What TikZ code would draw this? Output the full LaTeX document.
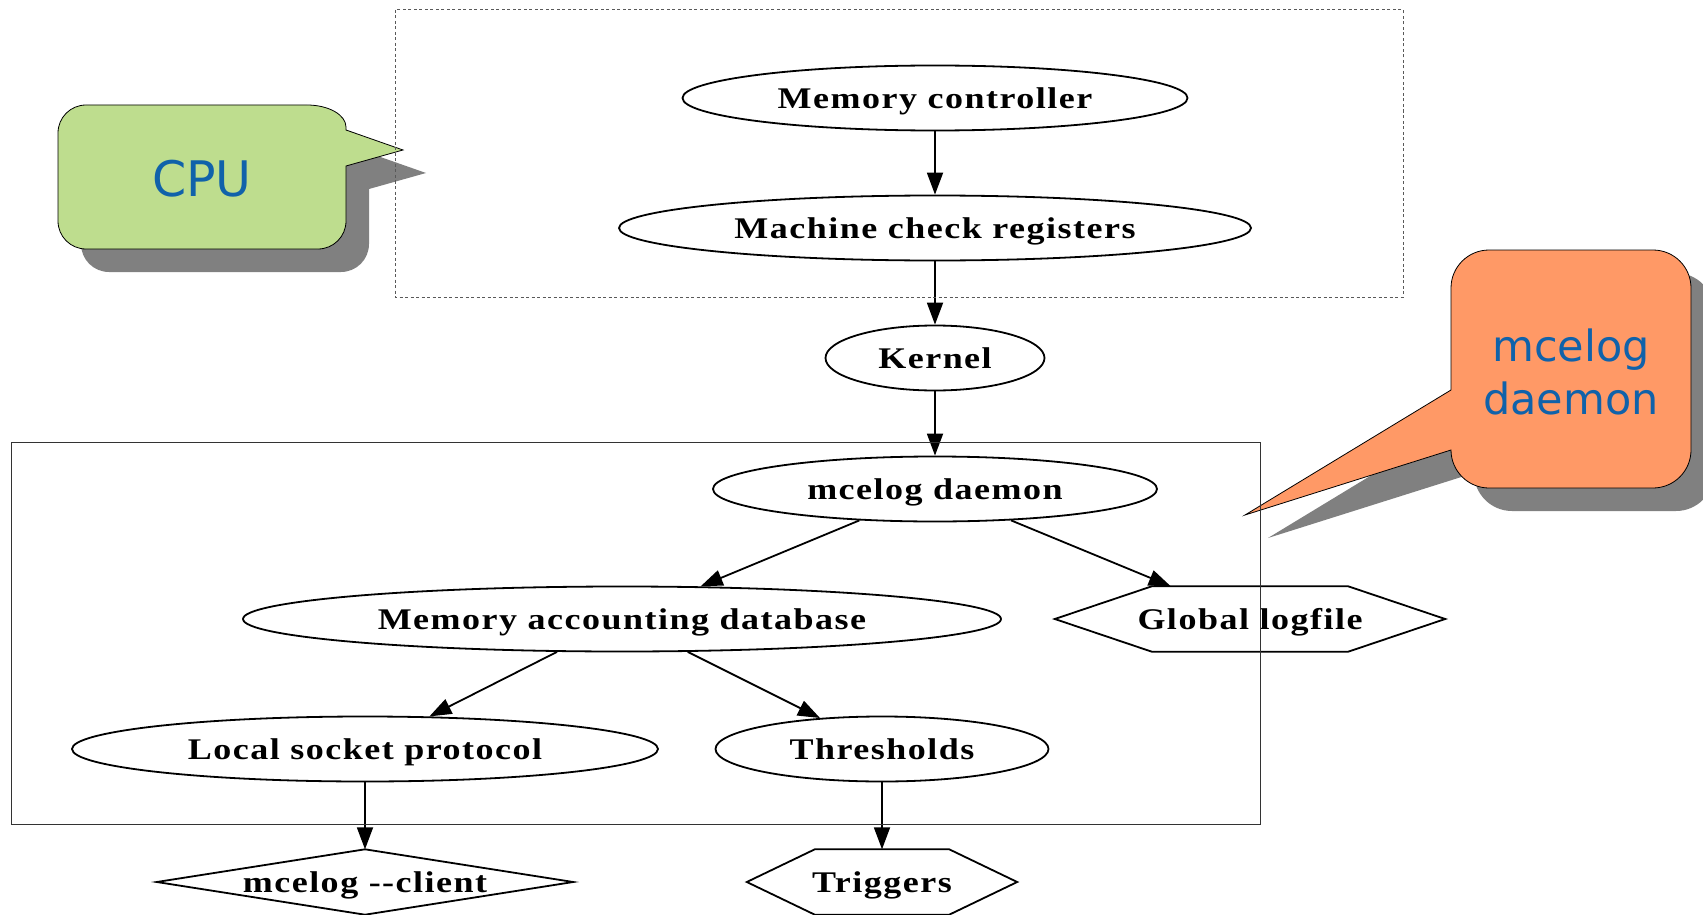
\documentclass[tikz,border=0pt]{standalone}
\usepackage{fontspec}
\usepackage{tikz}
\usetikzlibrary{arrows.meta, shapes.geometric}
\newfontfamily\gvfont[FakeStretch=1.2,LetterSpace=5]{Liberation Serif}
\newfontfamily\callfont{DejaVu Sans}
\definecolor{callgreen}{RGB}{190,221,142}
\definecolor{callorange}{RGB}{255,153,102}
\definecolor{shadowgray}{RGB}{128,128,128}
\definecolor{callblue}{RGB}{16,98,170}
\tikzset{
	gvnode/.style={draw, line width=1.8pt, ellipse, inner sep=0pt, minimum height=65pt, text depth=0pt, font=\gvfont\bfseries\fontsize{30}{34}\selectfont},
	gvpoly/.style={inner sep=0pt, minimum height=65pt, text depth=0pt, font=\gvfont\bfseries\fontsize{30}{34}\selectfont},
	gvline/.style={line width=1.8pt, line join=miter},
	gvedge/.style={-{Triangle[length=22pt,width=16pt]}, line width=1.8pt},
	calltext/.style={text=callblue, align=center},
	callshadow/.style={fill=shadowgray, draw=none},
}
\newcommand{\cpuoutline}{(346,130) -- (403,150) -- (346,166) -- (346,221)
	arc[start angle=0, end angle=90, radius=28] -- (86,249)
	arc[start angle=90, end angle=180, radius=28] -- (58,133)
	arc[start angle=180, end angle=270, radius=28] -- (307,105)
	arc[start angle=270, end angle=360, x radius=39, y radius=22] -- cycle}
\newcommand{\mceoutline}{(1451,390) -- (1245,515) -- (1451,450)
	arc[start angle=180, end angle=90, radius=38] -- (1653,488)
	arc[start angle=90, end angle=0, radius=38] -- (1691,288)
	arc[start angle=0, end angle=-90, radius=38] -- (1489,250)
	arc[start angle=-90, end angle=-180, radius=38] -- cycle}
\begin{document}
\begin{tikzpicture}[x=1pt,y=-1pt]
	\useasboundingbox[fill=white] (0,0) rectangle (1703,915);
	
	% Sprechblasen
	\begin{scope}[shift={(23,23)}]
		\fill[callshadow] \cpuoutline;
		\fill[callshadow] \mceoutline;
	\end{scope}
	\filldraw[fill=callgreen, draw=black, line width=0.8pt] \cpuoutline;
	\filldraw[fill=callorange, draw=black, line width=0.8pt] \mceoutline;
	\node[calltext, font=\callfont\fontsize{49}{56}\selectfont] (cpulabel) at (202,179) {CPU};
	\node[calltext, font=\callfont\fontsize{43}{53}\selectfont] (mcelabel) at (1571,372) {mcelog\\daemon};
	
	% Knoten
	\node[gvnode, minimum width=505pt] (memctl) at (935,98) {Memory controller};
	\node[gvnode, minimum width=632pt] (mcregs) at (935,228) {Machine check registers};
	\node[gvnode, minimum width=219pt] (kernel) at (935,358) {Kernel};
	\node[gvnode, minimum width=444pt] (daemon) at (935,489) {mcelog daemon};
	\node[gvnode, minimum width=758pt] (memdb) at (622,619) {Memory accounting database};
	\node[gvpoly, minimum width=390pt] (logfile) at (1250,619) {Global logfile};
	\node[gvnode, minimum width=586pt] (socket) at (365,749) {Local socket protocol};
	\node[gvnode, minimum width=333pt] (thresh) at (882,749) {Thresholds};
	\node[gvpoly, minimum width=416pt] (client) at (365,882) {mcelog --client};
	\node[gvpoly, minimum width=270pt] (trig) at (882,882) {Triggers};
	
	% Sechsecke und Raute
	\draw[gvline] (logfile.west) -- ([xshift=97pt]logfile.north west) -- ([xshift=-97pt]logfile.north east)
		-- (logfile.east) -- ([xshift=-97pt]logfile.south east) -- ([xshift=97pt]logfile.south west) -- cycle;
	\draw[gvline] (trig.west) -- ([xshift=68pt]trig.north west) -- ([xshift=-68pt]trig.north east)
		-- (trig.east) -- ([xshift=-68pt]trig.south east) -- ([xshift=68pt]trig.south west) -- cycle;
	\draw[gvline] (client.west) -- (client.north) -- (client.east) -- (client.south) -- cycle;
	
	% Pfeile
	\draw[gvedge] (memctl) -- (mcregs);
	\draw[gvedge] (mcregs) -- (kernel);
	\draw[gvedge] (kernel) -- (daemon);
	\draw[gvedge] (daemon) -- (memdb);
	\draw[gvedge] (daemon) -- (logfile);
	\draw[gvedge] (memdb) -- (socket);
	\draw[gvedge] (memdb) -- (thresh);
	\draw[gvedge] (socket) -- (client);
	\draw[gvedge] (thresh) -- (trig);
	
	% Rahmen
	\draw[gray!70!black, line width=1pt, dash pattern=on 3pt off 2.5pt] (395,10) rectangle (1403,297);
	\draw[gray!40!black, line width=1pt] (11,442) rectangle (1260,824);
\end{tikzpicture}
\end{document}
